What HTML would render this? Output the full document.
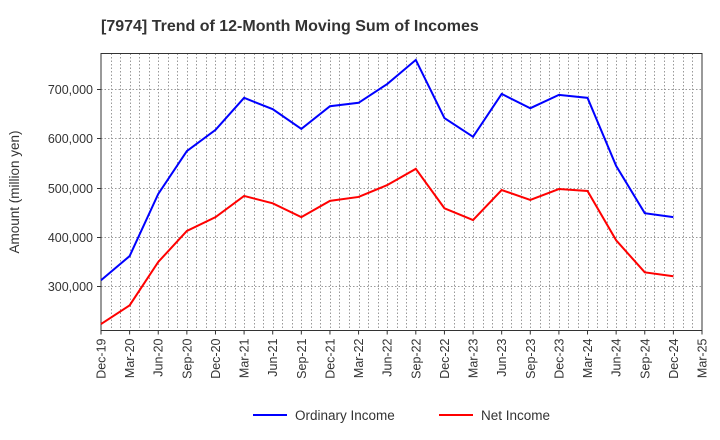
<!DOCTYPE html>
<html><head><meta charset="utf-8"><style>
body{margin:0;background:#fff;}
svg{display:block;font-family:"Liberation Sans",sans-serif;}
</style></head><body>
<svg id="c" width="720" height="440"></svg>
<script>
const categories=["Dec-19","Mar-20","Jun-20","Sep-20","Dec-20","Mar-21","Jun-21","Sep-21","Dec-21","Mar-22","Jun-22","Sep-22","Dec-22","Mar-23","Jun-23","Sep-23","Dec-23","Mar-24","Jun-24","Sep-24","Dec-24","Mar-25"];
const ordinaryIncome=[312000,361000,487000,574000,617000,682000,659000,619000,665000,672000,710000,759000,641000,603000,690000,661000,688000,682000,544000,448000,440000];
const netIncome=[223000,261000,349000,412000,440000,483000,468000,440000,473000,481000,505000,538000,458000,434000,495000,475000,497000,493000,393000,328000,320000];
const yTicks=[300000,400000,500000,600000,700000];
const yTickLabels=["300,000","400,000","500,000","600,000","700,000"];
const NS="http://www.w3.org/2000/svg";
const svg=document.getElementById('c');
const L=101,R=702,T=53.5,B=330.5;
const yMin=210000,yMax=772000;
function x(i){return L+(R-L)*i/(categories.length-1);}
function xm(m){return L+(R-L)*m/((categories.length-1)*3);}
function y(v){return B-(v-yMin)/(yMax-yMin)*(B-T);}
function el(t,a,p){const e=document.createElementNS(NS,t);for(const k in a)e.setAttribute(k,a[k]);(p||svg).appendChild(e);return e;}
const title=el('text',{x:101,y:31,'font-size':16,'font-weight':'bold',fill:'#333'});
title.textContent="[7974]  Trend of 12-Month Moving Sum of Incomes";


const grid=el('g',{stroke:'#999','stroke-width':1,'stroke-dasharray':'1.5,2'});


for(let m=1;m<(categories.length-1)*3;m++){const xx=Math.round(xm(m))+0.5;el('line',{x1:xx,x2:xx,y1:T,y2:B},grid);}
yTicks.forEach((v,i)=>{const yy=Math.round(y(v))+0.5;el('line',{x1:L,x2:R,y1:yy,y2:yy},grid);
 const t=el('text',{x:L-8,y:yy+4.5,'font-size':12.5,fill:'#333','text-anchor':'end'});t.textContent=yTickLabels[i];
 
 el('line',{x1:L-4,x2:L,y1:yy,y2:yy,stroke:'#333'});});
categories.forEach((c,i)=>{const xx=x(i);
 el('line',{x1:xx,x2:xx,y1:B,y2:B+4,stroke:'#333'});
 const t=el('text',{transform:`translate(${xx+4.5},${B+8}) rotate(-90)`,'font-size':12.5,fill:'#333','text-anchor':'end'});t.textContent=c;
 });
const frame=el('rect',{x:L,y:T,width:R-L,height:B-T,fill:'none',stroke:'#333','stroke-width':1});

const yt=el('text',{transform:'translate(19,192) rotate(-90)','font-size':13.5,fill:'#333','text-anchor':'middle'});
yt.textContent="Amount (million yen)";

function line(d,col,name){const p=el('polyline',{points:d.map((v,i)=>x(i)+','+y(v)).join(' '),fill:'none',stroke:col,'stroke-width':2});
 }
line(ordinaryIncome,'#0000ff','ordinary-income-line');
line(netIncome,'#ff0000','net-income-line');
function leg(x0,col,label,name){const g=el('g',{});
 el('line',{x1:x0,x2:x0+34,y1:415,y2:415,stroke:col,'stroke-width':2},g);
 const t=el('text',{x:x0+42,y:420,'font-size':13.5,fill:'#333'},g);t.textContent=label;}
leg(253,'#0000ff','Ordinary Income','legend-ordinary-income');
leg(439,'#ff0000','Net Income','legend-net-income');
</script>
</body></html>
